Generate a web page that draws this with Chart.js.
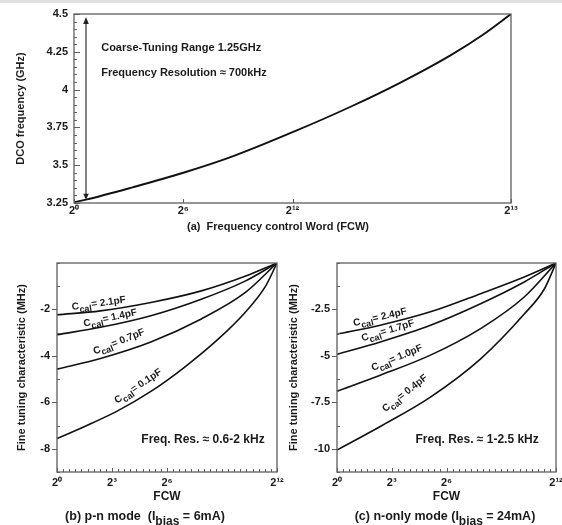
<!DOCTYPE html>
<html>
<head>
<meta charset="utf-8">
<title>DCO tuning characteristics</title>
<script src="https://cdn.jsdelivr.net/npm/chart.js@4.4.0/dist/chart.umd.min.js"></script>
<style>
  html, body { margin: 0; padding: 0; background: #fff; }
  body { width: 562px; height: 525px; overflow: hidden; position: relative; }
  .strip { position: absolute; left: 0; top: 0; width: 562px; height: 3px; background: #e0e0e0; }
  .panel { position: absolute; }
  #boxA { left: 0; top: 0; }
  #boxB { left: 0; top: 238px; }
  #boxC { left: 280px; top: 238px; }
</style>
</head>
<body>
<div class="strip"></div>
<div class="panel" id="boxA"><canvas id="chartA" width="562" height="238"></canvas></div>
<div class="panel" id="boxB"><canvas id="chartB" width="290" height="287"></canvas></div>
<div class="panel" id="boxC"><canvas id="chartC" width="300" height="287"></canvas></div>
<script>
// (a) coarse tuning: DCO frequency vs FCW
const fcwA = [0, 225, 1112, 2050, 2987, 4143, 5174, 6111, 7049, 7673, 8192];
const freqA = [3.255, 3.272, 3.355, 3.45, 3.56, 3.725, 3.885, 4.045, 4.225, 4.365, 4.5];
const xTicksA = [0, 2048, 4096, 8192];
const xLabelsA = ['2⁰', '2⁶', '2¹²', '2¹³'];
const yTicksA = [3.25, 3.5, 3.75, 4, 4.25, 4.5];
const yLabelsA = ['3.25', '3.5', '3.75', '4', '4.25', '4.5'];

// (b) p-n mode, x = log2(FCW)
const capB = ['2.1pF', '1.4pF', '0.7pF', '0.1pF'];
const fcwB = [0, 2.37, 5.12, 7.87, 10.26, 12];
const fcwB01 = [0, 1.45, 3.28, 5.12, 6.95, 8.79, 10.26, 11.36, 12];
const tuneB21 = [-2.23, -2.06, -1.70, -1.20, -0.57, 0];
const tuneB14 = [-3.09, -2.77, -2.27, -1.56, -0.78, 0];
const tuneB07 = [-4.57, -4.11, -3.40, -2.41, -1.28, 0];
const tuneB01 = [-7.56, -7.06, -6.38, -5.53, -4.49, -3.28, -2.13, -1.02, 0];
const yTicksB = [-8, -6, -4, -2];
const yLabelsB = ['-8', '-6', '-4', '-2'];

// (c) n-only mode
const capC = ['2.4pF', '1.7pF', '1.0pF', '0.4pF'];
const fcwC = [0, 2.37, 5.12, 7.87, 10.26, 12];
const fcwC04 = [0, 2.37, 5.12, 7.87, 10.26, 11.36, 12];
const tuneC24 = [-3.83, -3.35, -2.63, -1.65, -0.75, 0];
const tuneC17 = [-4.91, -4.25, -3.35, -2.19, -1.02, 0];
const tuneC10 = [-6.90, -6.04, -4.96, -3.53, -1.83, 0];
const tuneC04 = [-10.07, -8.80, -7.22, -5.16, -2.75, -1.40, 0];
const yTicksC = [-10, -7.5, -5, -2.5];
const yLabelsC = ['-10', '-7.5', '-5', '-2.5'];

const xTicksLog = [0, 3, 6, 12];
const xLabelsLog = ['2⁰', '2³', '2⁶', '2¹²'];

const TEXT = '#1b1b1b';
const FONT = "'Liberation Sans', Arial, Helvetica, sans-serif";
const bold = size => ({ family: FONT, size: size, weight: 'bold' });

function pts(xs, ys) {
    return xs.map((x, i) => ({ x: x, y: ys[i] }));
}

function line(xs, ys, width) {
    return {
        data: pts(xs, ys),
        borderColor: '#111',
        borderWidth: width,
        pointRadius: 0,
        fill: false,
        cubicInterpolationMode: 'monotone'
    };
}

// ticks = majors, plus minor ticks every `step` when given
function tickBuilder(majors, step) {
    return function (scale) {
        const out = [];
        if (step) {
            const n = Math.round((scale.max - scale.min) / step);
            for (let i = 0; i <= n; i++) {
                const v = scale.min + i * step;
                const isMajor = majors.some(m => Math.abs(m - v) < step / 10);
                out.push({ value: v, major: isMajor });
            }
        } else {
            majors.forEach(m => out.push({ value: m, major: true }));
        }
        scale.ticks = out;
    };
}

function labelFor(majors, labels) {
    return function (value) {
        const k = majors.findIndex(m => Math.abs(m - value) < 1e-6);
        return k >= 0 ? labels[k] : '';
    };
}

// rich text with subscripts: parts = [{t, sub}]
function drawRich(ctx, parts, x, y, size, align, subScale) {
    const sub = Math.round(size * (subScale || 0.85));
    let w = 0;
    parts.forEach(p => {
        ctx.font = 'bold ' + (p.sub ? sub : size) + 'px ' + FONT;
        w += ctx.measureText(p.t).width;
    });
    let cx = align === 'center' ? x - w / 2 : x;
    ctx.textBaseline = 'middle';
    ctx.textAlign = 'left';
    parts.forEach(p => {
        ctx.font = 'bold ' + (p.sub ? sub : size) + 'px ' + FONT;
        ctx.fillText(p.t, cx, p.sub ? y + size * 0.38 : y);
        cx += ctx.measureText(p.t).width;
    });
}

const framePlugin = {
    id: 'frame',
    afterDatasetsDraw(chart, args, opts) {
        const ctx = chart.ctx;
        const a = chart.chartArea;
        const xs = chart.scales.x;
        const ys = chart.scales.y;
        ctx.save();
        ctx.strokeStyle = '#5e5e5e';
        ctx.lineWidth = 1.3;
        ctx.strokeRect(a.left, a.top, a.right - a.left, a.bottom - a.top);
        ctx.lineWidth = 1;
        ctx.beginPath();
        xs.ticks.forEach(t => {
            const seg = t.major ? opts.x.major : opts.x.minor;
            if (!seg) return;
            const p = Math.round(xs.getPixelForValue(t.value)) + 0.5;
            ctx.moveTo(p, a.bottom - seg[0]);
            ctx.lineTo(p, a.bottom - seg[1]);
        });
        ys.ticks.forEach(t => {
            const seg = t.major ? opts.y.major : opts.y.minor;
            if (!seg) return;
            const p = Math.round(ys.getPixelForValue(t.value)) + 0.5;
            ctx.moveTo(a.left + seg[0], p);
            ctx.lineTo(a.left + seg[1], p);
        });
        ctx.stroke();
        ctx.restore();
    }
};

const notesPlugin = {
    id: 'notes',
    afterDatasetsDraw(chart, args, opts) {
        const ctx = chart.ctx;
        const xs = chart.scales.x;
        const ys = chart.scales.y;
        ctx.save();
        ctx.fillStyle = TEXT;
        ctx.strokeStyle = '#333';
        (opts.items || []).forEach(n => {
            ctx.save();
            ctx.translate(xs.getPixelForValue(n.x), ys.getPixelForValue(n.y));
            ctx.rotate((n.rot || 0) * Math.PI / 180);
            drawRich(ctx, n.parts, 0, 0, n.size, 'left');
            ctx.restore();
        });
        if (opts.arrow) {
            const ar = opts.arrow;
            const px = xs.getPixelForValue(ar.x);
            const y0 = ys.getPixelForValue(ar.from);
            const y1 = ys.getPixelForValue(ar.to);
            ctx.lineWidth = 1.2;
            ctx.beginPath();
            ctx.moveTo(px, y0 - 3);
            ctx.lineTo(px, y1 + 5);
            ctx.stroke();
            ctx.fillStyle = '#222';
            ctx.beginPath();
            ctx.moveTo(px, y1);
            ctx.lineTo(px - 2.8, y1 + 7);
            ctx.lineTo(px + 2.8, y1 + 7);
            ctx.closePath();
            ctx.fill();
            ctx.beginPath();
            ctx.moveTo(px, y0);
            ctx.lineTo(px - 2.8, y0 - 6);
            ctx.lineTo(px + 2.8, y0 - 6);
            ctx.closePath();
            ctx.fill();
        }
        if (opts.caption) {
            const c = opts.caption;
            ctx.fillStyle = TEXT;
            drawRich(ctx, c.parts, c.cx, c.cy, c.size, 'center', 0.92);
        }
        ctx.restore();
    }
};

function ccal(value, x, y, rot) {
    return { x: x, y: y, rot: rot, size: 10, parts: [{ t: 'C' }, { t: 'cal', sub: true }, { t: '= ' + value }] };
}

function baseScales(cfg) {
    return {
        x: {
            type: 'linear',
            min: cfg.xMin,
            max: cfg.xMax,
            afterBuildTicks: tickBuilder(cfg.xMajors, cfg.xStep),
            afterFit: s => { s.height = cfg.xHeight; },
            grid: { display: false, drawTicks: false },
            border: { display: false },
            ticks: {
                autoSkip: false,
                maxRotation: 0,
                padding: cfg.xPad,
                font: bold(11),
                color: TEXT,
                callback: labelFor(cfg.xMajors, cfg.xLabels)
            },
            title: {
                display: !!cfg.xTitle,
                text: cfg.xTitle,
                font: bold(12),
                color: TEXT,
                padding: { top: 0, bottom: cfg.xTitlePad }
            }
        },
        y: {
            type: 'linear',
            min: cfg.yMin,
            max: cfg.yMax,
            afterBuildTicks: tickBuilder(cfg.yMajors, cfg.yStep),
            afterFit: s => { s.width = cfg.yWidth; },
            grid: { display: false, drawTicks: false },
            border: { display: false },
            ticks: {
                autoSkip: false,
                padding: cfg.yPad,
                font: bold(11),
                color: TEXT,
                callback: labelFor(cfg.yMajors, cfg.yLabels)
            },
            title: {
                display: true,
                text: cfg.yTitle,
                font: bold(11),
                color: TEXT,
                padding: { top: cfg.yTitlePad, bottom: 0 }
            }
        }
    };
}

function makeChart(id, datasets, scales, padding, frame, notes) {
    return new Chart(document.getElementById(id), {
        type: 'line',
        data: { datasets: datasets },
        options: {
            responsive: false,
            animation: false,
            events: [],
            layout: { padding: padding },
            plugins: {
                legend: { display: false },
                tooltip: { enabled: false },
                frame: frame,
                notes: notes
            },
            scales: scales
        },
        plugins: [framePlugin, notesPlugin]
    });
}

// (a)
makeChart('chartA',
    [line(fcwA, freqA, 1.9)],
    baseScales({
        xMin: 0, xMax: 8192, xMajors: xTicksA, xLabels: xLabelsA, xStep: null,
        xHeight: 35, xPad: 1, xTitle: '', xTitlePad: 0,
        yMin: 3.25, yMax: 4.5, yMajors: yTicksA, yLabels: yLabelsA, yStep: 0.05,
        yWidth: 74, yPad: 6, yTitle: 'DCO frequency (GHz)', yTitlePad: 14
    }),
    { top: 14, right: 51, left: 0, bottom: 0 },
    { x: { major: [0, 4] }, y: { major: [0, 6], minor: [0, 3] } },
    {
        items: [
            { x: 510, y: 4.275, size: 11, parts: [{ t: 'Coarse-Tuning Range 1.25GHz' }] },
            { x: 510, y: 4.11, size: 11, parts: [{ t: 'Frequency Resolution ≈ 700kHz' }] }
        ],
        arrow: { x: 225, from: 3.272, to: 4.48 },
        caption: { cx: 278, cy: 227, size: 11, parts: [{ t: '(a)  Frequency control Word (FCW)' }] }
    }
);

// (b)
makeChart('chartB',
    [
        line(fcwB, tuneB21, 1.6),
        line(fcwB, tuneB14, 1.6),
        line(fcwB, tuneB07, 1.6),
        line(fcwB01, tuneB01, 1.6)
    ],
    baseScales({
        xMin: 0, xMax: 12, xMajors: xTicksLog, xLabels: xLabelsLog, xStep: 1 / 3,
        xHeight: 53, xPad: 4, xTitle: 'FCW', xTitlePad: 21,
        yMin: -9, yMax: 0, yMajors: yTicksB, yLabels: yLabelsB, yStep: 1,
        yWidth: 57, yPad: 7, yTitle: 'Fine tuning characteristic (MHz)', yTitlePad: 15
    }),
    { top: 25, right: 13, left: 0, bottom: 0 },
    { x: { major: [0, 4], minor: [0, 3] }, y: { major: [-5, 0], minor: [0, 3] } },
    {
        items: [
            ccal(capB[0], 0.81, -1.91, -8),
            ccal(capB[1], 1.45, -2.63, -12.5),
            ccal(capB[2], 2.0, -3.83, -21.8),
            ccal(capB[3], 3.19, -5.96, -33.7),
            { x: 4.6, y: -7.59, size: 12, parts: [{ t: 'Freq. Res. ≈ 0.6-2 kHz' }] }
        ],
        caption: { cx: 145, cy: 279, size: 12.5, parts: [{ t: '(b) p-n mode  (I' }, { t: 'bias', sub: true }, { t: ' = 6mA)' }] }
    }
);

// (c)
makeChart('chartC',
    [
        line(fcwC, tuneC24, 1.6),
        line(fcwC, tuneC17, 1.6),
        line(fcwC, tuneC10, 1.6),
        line(fcwC04, tuneC04, 1.6)
    ],
    baseScales({
        xMin: 0, xMax: 12, xMajors: xTicksLog, xLabels: xLabelsLog, xStep: 1 / 3,
        xHeight: 53, xPad: 4, xTitle: 'FCW', xTitlePad: 21,
        yMin: -11.25, yMax: 0, yMajors: yTicksC, yLabels: yLabelsC, yStep: 1.25,
        yWidth: 57, yPad: 7, yTitle: 'Fine tuning characteristic (MHz)', yTitlePad: 7
    }),
    { top: 25, right: 24, left: 0, bottom: 0 },
    { x: { major: [0, 4], minor: [0, 3] }, y: { major: [-5, 0], minor: [0, 3] } },
    {
        items: [
            ccal(capC[0], 0.9, -3.26, -13),
            ccal(capC[1], 1.36, -4.07, -16.7),
            ccal(capC[2], 1.91, -5.68, -22.8),
            ccal(capC[3], 2.55, -7.92, -38),
            { x: 4.3, y: -9.52, size: 12, parts: [{ t: 'Freq. Res. ≈ 1-2.5 kHz' }] }
        ],
        caption: { cx: 165, cy: 279, size: 12.5, parts: [{ t: '(c) n-only mode (I' }, { t: 'bias', sub: true }, { t: ' = 24mA)' }] }
    }
);
</script>
</body>
</html>
